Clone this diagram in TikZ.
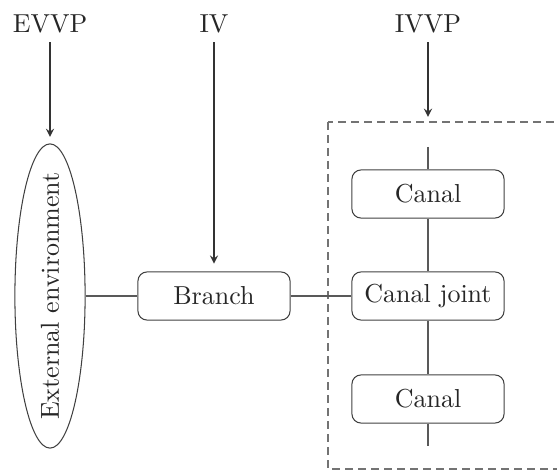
\documentclass[tikz,border=0pt]{standalone}
\usepackage{tikz}
\usetikzlibrary{shapes.geometric}

\tikzset{
	box/.style={draw=black!75, rounded corners=3.5pt, minimum width=58.5pt, minimum height=18.5pt, text=black!85},
	lbl/.style={text=black!85},
	wire/.style={black!65}
}

\begin{document}
\begin{tikzpicture}[x=0.3846pt, y=-0.3846pt, >=stealth]
	\useasboundingbox (0,0) rectangle (557,472);

	% labels on top
	\node[lbl] (evvp) at (50,24) {EVVP};
	\node[lbl] (iv) at (214,24) {IV};
	\node[lbl] (ivvp) at (428,24) {IVVP};

	% external environment
	\node[draw=black!75, ellipse, minimum width=27pt, minimum height=117pt, inner sep=0pt] (env) at (50,296) {};
	\node[lbl, rotate=90] (envtxt) at (env) {External environment};

	\node[box] (branch) at (214,296) {Branch};

	% inner part (dashed)
	\draw[black!55, dash pattern=on 3pt off 2pt] (328,122) rectangle (562,469);
	\coordinate (boxtop) at (428,122);
	\coordinate (top) at (428,147);
	\coordinate (bottom) at (428,446);
	\node[box] (canalup) at (428,194) {Canal};
	\node[box] (joint) at (428,296) {Canal joint};
	\node[box] (canaldown) at (428,399) {Canal};

	\draw[->, black!80, shorten >=2.5pt] (evvp) -- (env.north);
	\draw[->, black!80, shorten >=3pt] (iv) -- (branch.north);
	\draw[->, black!80, shorten >=2pt] (ivvp) -- (boxtop);

	\draw[wire] (env.east) -- (branch.west);
	\draw[wire] (branch.east) -- (joint.west);
	\draw[wire] (top) -- (canalup.north);
	\draw[wire] (canalup.south) -- (joint.north);
	\draw[wire] (joint.south) -- (canaldown.north);
	\draw[wire] (canaldown.south) -- (bottom);
\end{tikzpicture}
\end{document}
